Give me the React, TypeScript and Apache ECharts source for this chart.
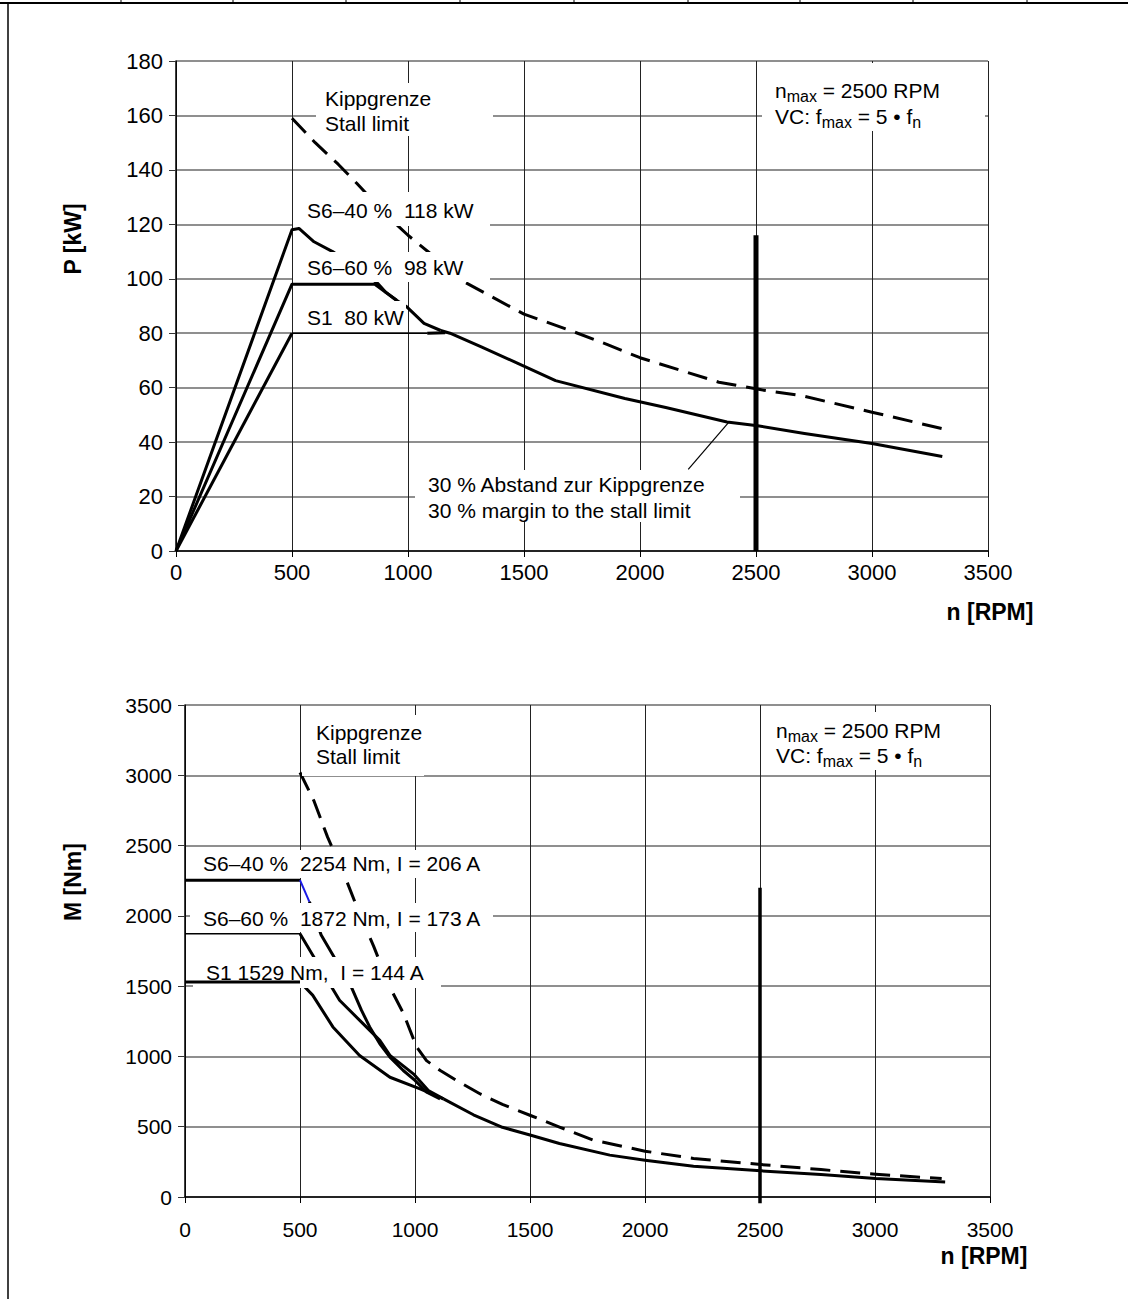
import React, { useEffect, useRef } from "react";
import * as echarts from "echarts";

const FONT = '"Liberation Sans", Arial, Helvetica, sans-serif';

// ---------- Top chart: power P [kW] vs speed n [RPM] ----------
const stallP = [[500,159],[600,150],[700,142],[780,135],[900,124],[1000,116],[1100,109],[1250,98.5],[1500,87],[1700,81],[1860,75.8],[2000,71],[2340,62],[2524,59.2],[2700,57],[3000,51],[3300,45]];
const s640P = [[0,0],[500,118],[530,118.5],[595,113.6],[675,110],[760,105],[870,98.3],[905,95],[952,92]];
const s660P = [[0,0],[500,98],[857,98],[952,92],[996,89.6],[1069,83.6],[1141,81]];
const s1RampP = [[0,0],[500,80]];
const s1FlatP = [[500,80],[1083,80]];
const s1JoinP = [[1083,80],[1160,80.2]];
const commonP = [[1141,81],[1181,80],[1316,75],[1497,68],[1636,62.6],[1935,56],[2111,52.7],[2375,47.4],[2507,46],[2709,43.2],[3000,39.5],[3303,34.7]];
const nmaxP = [[2500,0],[2500,116]];
const leaderP = [[2384,47.4],[2208,30]];

// ---------- Bottom chart: torque M [Nm] vs speed n [RPM] ----------
const stallM = [[500,3020],[560,2820],[620,2560],[700,2260],[760,2010],[820,1785],[890,1495],[950,1305],[1007,1067],[1050,970],[1110,900],[1180,829],[1284,733],[1380,659],[1505,578],[1631,496],[1774,405],[2000,326],[2211,274],[2503,231],[2765,195],[3003,162],[3290,131]];
const s640FlatM = [[0,2254],[500,2254]];
const s640BlueM = [[500,2254],[541,2100]];
const s640M = [[541,2100],[592,1864],[643,1721],[723,1495],[767,1329],[803,1210],[847,1090],[891,995],[949,900],[1000,829],[1051,745],[1109,698]];
const s660FlatM = [[0,1872],[500,1872]];
const s660M = [[500,1872],[555,1721],[628,1519],[672,1400],[774,1233],[847,1114],[891,1007],[993,876],[1058,757],[1124,698]];
const s1FlatM = [[0,1529],[500,1529]];
const s1M = [[500,1529],[555,1436],[643,1210],[759,1007],[891,852],[1022,769],[1124,698]];
const commonM = [[1124,698],[1254,585],[1380,496],[1500,441],[1628,381],[1847,298],[2000,262],[2211,219],[2503,186],[2765,160],[3003,131],[3305,107]];
const nmaxM = [[2500,-45],[2500,2200]];

const xTicks = { min: 0, max: 3500, interval: 500 };
const yTopTicks = { min: 0, max: 180, interval: 20 };
const yBotTicks = { min: 0, max: 3500, interval: 500 };

function ln(data: number[][], idx: number, width: number, opts: any = {}) {
  return {
    type: "line",
    data,
    xAxisIndex: idx,
    yAxisIndex: idx,
    symbol: "none",
    showSymbol: false,
    silent: true,
    z: opts.z ?? 2,
    clip: opts.clip ?? true,
    lineStyle: { color: opts.color ?? "#000", width, type: opts.dash ?? "solid", cap: "butt", join: "round" },
  };
}

function txt(x: number, y: number, text: string, size = 21, extra: any = {}) {
  return {
    type: "text",
    x,
    y,
    z: 20,
    rotation: extra.rotation ?? 0,
    style: {
      text,
      font: `${extra.bold ? "bold " : ""}${size}px ${FONT}`,
      fill: "#000",
      align: extra.align ?? "left",
      verticalAlign: "middle",
      rich: extra.rich,
    },
  };
}

function box(x: number, y: number, w: number, h: number) {
  return { type: "rect", z: 15, shape: { x, y, width: w, height: h }, style: { fill: "#fff" } };
}

const subRich = {
  n: { fontSize: 21, fontFamily: FONT },
  s: { fontSize: 16, fontFamily: FONT, padding: [12, 0, 0, 0] },
};

const plain = (v: number) => String(v);

function axisPair(idx: number, yTicks: any, labelSize: number, xMargin: number) {
  const x = {
    type: "value",
    gridIndex: idx,
    ...xTicks,
    axisLine: { show: true, onZero: false, lineStyle: { color: "#000", width: 1.5 } },
    axisTick: { show: true, length: 6, lineStyle: { color: "#000", width: 1 } },
    axisLabel: { color: "#000", fontSize: labelSize, fontFamily: FONT, margin: xMargin, formatter: plain },
    splitLine: { show: true, showMinLine: true, showMaxLine: true, lineStyle: { color: "#222", width: 1 } },
  };
  const y = {
    type: "value",
    gridIndex: idx,
    ...yTicks,
    axisLine: { show: true, onZero: false, lineStyle: { color: "#000", width: 1.5 } },
    axisTick: { show: true, length: 7, lineStyle: { color: "#333", width: 1 } },
    axisLabel: { color: "#000", fontSize: labelSize, fontFamily: FONT, margin: 13, formatter: plain },
    splitLine: { show: true, showMinLine: true, showMaxLine: true, lineStyle: { color: "#6a6a6a", width: 1.5 } },
  };
  return { x, y };
}

export default function App() {
  const ref = useRef<HTMLDivElement>(null);
  useEffect(() => {
    document.body.style.margin = "0";
    document.body.style.overflow = "hidden";
    const chart = echarts.init(ref.current!, null, { renderer: "svg" });
    const top = axisPair(0, yTopTicks, 22, 10);
    const bot = axisPair(1, yBotTicks, 21, 22);
    const dash = [20, 10];
    const option: any = {
      animation: false,
      backgroundColor: "#fff",
      grid: [
        { left: 176, top: 61, width: 812, height: 490 },
        { left: 185, top: 705, width: 805, height: 492 },
      ],
      xAxis: [top.x, bot.x],
      yAxis: [top.y, bot.y],
      series: [
        ln(stallP, 0, 3, { dash }),
        ln(s640P, 0, 3),
        ln(s660P, 0, 3),
        ln(s1RampP, 0, 3),
        ln(s1FlatP, 0, 1.5, { z: 18 }),
        ln(s1JoinP, 0, 3),
        ln(commonP, 0, 3),
        ln(nmaxP, 0, 5),
        ln(leaderP, 0, 1.2),
        ln(stallM, 1, 3, { dash }),
        ln(s640FlatM, 1, 3),
        ln(s640BlueM, 1, 2, { color: "#1a1ae6" }),
        ln(s640M, 1, 3),
        ln(s660FlatM, 1, 1.5),
        ln(s660M, 1, 3),
        ln(s1FlatM, 1, 3, { z: 18 }),
        ln(s1M, 1, 3),
        ln(commonM, 1, 3),
        ln(nmaxM, 1, 3.5, { clip: false }),
      ],
      graphic: [
        // page frame
        { type: "line", z: 30, shape: { x1: 0, y1: 3, x2: 1128, y2: 3 }, style: { stroke: "#000", lineWidth: 2 } },
        { type: "line", z: 30, shape: { x1: 8, y1: 3, x2: 8, y2: 1299 }, style: { stroke: "#000", lineWidth: 1.5 } },
        ...[121, 233, 346, 460, 574, 688, 800, 913, 1027].map((x) => ({
          type: "line", z: 30, shape: { x1: x, y1: 0, x2: x, y2: 3 }, style: { stroke: "#000", lineWidth: 1 },
        })),
        // white label boxes, top chart
        box(316, 83, 177, 53),
        box(293, 192, 197, 34),
        box(293, 252, 197, 30),
        box(293, 301, 113, 30),
        box(762, 63, 223, 68),
        box(415, 470, 325, 52),
        // white label boxes, bottom chart
        box(302, 715, 122, 61),
        box(765, 712, 220, 58),
        box(190, 850, 295, 28),
        box(190, 903, 303, 29),
        box(193, 957, 248, 31),
        // texts top
        txt(325, 98, "Kippgrenze"),
        txt(325, 123, "Stall limit"),
        txt(307, 210, "S6–40 %  118 kW"),
        txt(307, 267, "S6–60 %  98 kW"),
        txt(307, 317, "S1  80 kW"),
        txt(775, 90, "{n|n}{s|max}{n| = 2500 RPM}", 21, { rich: subRich }),
        txt(775, 116, "{n|VC: f}{s|max}{n| = 5 • f}{s|n}", 21, { rich: subRich }),
        txt(428, 484, "30 % Abstand zur Kippgrenze"),
        txt(428, 510, "30 % margin to the stall limit"),
        txt(73, 239, "P [kW]", 23, { bold: true, rotation: Math.PI / 2, align: "center" }),
        txt(990, 612, "n [RPM]", 23, { bold: true, align: "center" }),
        // texts bottom
        txt(316, 732, "Kippgrenze"),
        txt(316, 756, "Stall limit"),
        txt(776, 730, "{n|n}{s|max}{n| = 2500 RPM}", 21, { rich: subRich }),
        txt(776, 755, "{n|VC: f}{s|max}{n| = 5 • f}{s|n}", 21, { rich: subRich }),
        txt(203, 863, "S6–40 %  2254 Nm, I = 206 A"),
        txt(203, 918, "S6–60 %  1872 Nm, I = 173 A"),
        txt(206, 972, "S1 1529 Nm,  I = 144 A"),
        txt(73, 882, "M [Nm]", 23, { bold: true, rotation: Math.PI / 2, align: "center" }),
        txt(984, 1256, "n [RPM]", 23, { bold: true, align: "center" }),
      ],
    };
    chart.setOption(option);
    return () => chart.dispose();
  }, []);
  return <div ref={ref} style={{ width: 1128, height: 1299 }} />;
}
